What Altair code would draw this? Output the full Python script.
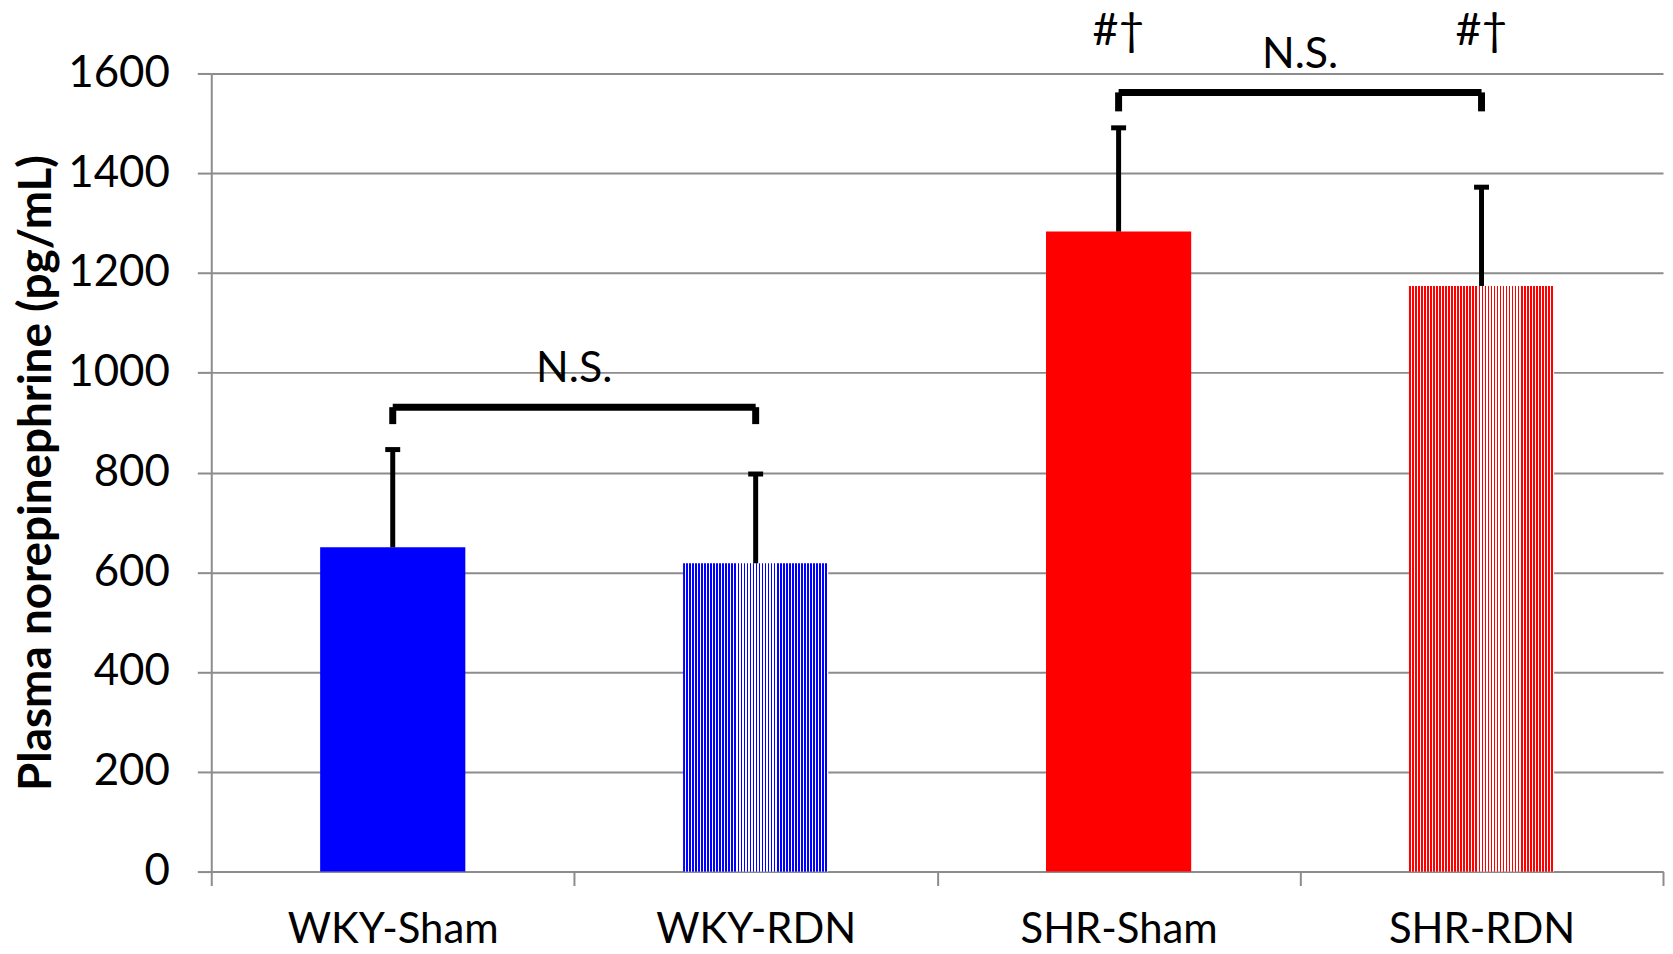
import altair as alt
import pandas as pd

groups = ["WKY-Sham", "WKY-RDN", "SHR-Sham", "SHR-RDN"]
means = [650, 618, 1283, 1174]
upper = [846, 797, 1491, 1372]

bracket_left = ["WKY-Sham", "SHR-Sham"]
bracket_right = ["WKY-RDN", "SHR-RDN"]
bracket_top = [931, 1562]
bracket_bottom = [897, 1524]
ns_text = ["N.S.", "N.S."]
ns_y = [981, 1610]

mark_groups = ["SHR-Sham", "SHR-RDN"]
mark_text = ["#\u2020", "#\u2020"]
mark_y = [1658, 1658]

FONT = "Lato"
GRAY = "#8c8c8c"

df = pd.DataFrame({"group": groups, "mean": means, "upper": upper})
br = pd.DataFrame({"left": bracket_left, "right": bracket_right,
                   "top": bracket_top, "bottom": bracket_bottom,
                   "text": ns_text, "ty": ns_y})
br_ends = pd.DataFrame({"group": bracket_left + bracket_right,
                        "top": bracket_top + bracket_top,
                        "bottom": bracket_bottom + bracket_bottom})
mk = pd.DataFrame({"group": mark_groups, "text": mark_text, "y": mark_y})

xscale = alt.Scale(domain=groups, paddingInner=0, paddingOuter=0)
yscale = alt.Scale(domain=[0, 1600], nice=False)

x_axis = alt.Axis(title=None, labelAngle=0, labelFontSize=42, labelFont=FONT,
                  labelColor="black", tickBand="extent", tickSize=14,
                  tickColor=GRAY, tickWidth=2, domainColor=GRAY, domainWidth=2,
                  labelPadding=24, grid=False, labelLimit=0)
y_axis = alt.Axis(title="Plasma norepinephrine (pg/mL)", values=list(range(0, 1601, 200)),
                  format="d", labelFontSize=44, labelFont=FONT, labelColor="black",
                  tickSize=14, tickColor=GRAY, tickWidth=2, domainColor=GRAY,
                  domainWidth=2, labelPadding=28, grid=True, gridColor=GRAY,
                  gridWidth=2, titleFont=FONT, titleFontSize=46,
                  titleFontWeight="bold", titleColor="black", titlePadding=7)


def stripes(c, n=48):
    stops = []
    for i in range(n):
        a = i / n
        b = (i + 0.55) / n
        e = (i + 1) / n
        stops += [alt.GradientStop(offset=a, color=c), alt.GradientStop(offset=b, color=c),
                  alt.GradientStop(offset=b, color="white"), alt.GradientStop(offset=e, color="white")]
    return alt.Gradient(gradient="linear", stops=stops, x1=0, x2=1, y1=0, y2=0)


BW = alt.RelativeBandSize(0.4)
base = alt.Chart(df)

bars_solid = base.transform_filter(
    alt.FieldOneOfPredicate(field="group", oneOf=["WKY-Sham", "SHR-Sham"])
).mark_bar(width=BW).encode(
    x=alt.X("group:N", scale=xscale, sort=groups, axis=x_axis),
    y=alt.Y("mean:Q", scale=yscale, axis=y_axis),
    color=alt.Color("group:N", scale=alt.Scale(domain=["WKY-Sham", "SHR-Sham"],
                                               range=["#0000ff", "#ff0000"]), legend=None),
)

bar_wrdn = base.transform_filter(alt.datum.group == "WKY-RDN").mark_bar(
    width=BW, color=stripes("#0000ff")).encode(x=alt.X("group:N", scale=xscale, sort=groups),
                                                y=alt.Y("mean:Q", scale=yscale))
bar_srdn = base.transform_filter(alt.datum.group == "SHR-RDN").mark_bar(
    width=BW, color=stripes("#ff0000")).encode(x=alt.X("group:N", scale=xscale, sort=groups),
                                                y=alt.Y("mean:Q", scale=yscale))

err = base.mark_rule(color="black", strokeWidth=5).encode(
    x=alt.X("group:N", scale=xscale, sort=groups),
    y=alt.Y("mean:Q", scale=yscale), y2="upper:Q")
cap = base.mark_tick(color="black", size=15, thickness=5, opacity=1).encode(
    x=alt.X("group:N", scale=xscale, sort=groups),
    y=alt.Y("upper:Q", scale=yscale))

br_h = alt.Chart(br).mark_rule(color="black", strokeWidth=7).encode(
    x=alt.X("left:N", scale=xscale, sort=groups), x2="right:N",
    y=alt.Y("top:Q", scale=yscale))
br_v = alt.Chart(br_ends).mark_rule(color="black", strokeWidth=7).encode(
    x=alt.X("group:N", scale=xscale, sort=groups),
    y=alt.Y("bottom:Q", scale=yscale), y2="top:Q")
ns = alt.Chart(br).mark_text(font=FONT, fontSize=43, color="black", baseline="alphabetic").encode(
    x=alt.X("left:N", scale=xscale, sort=groups, bandPosition=1),
    y=alt.Y("ty:Q", scale=yscale), text="text:N")
marks = alt.Chart(mk).mark_text(font=FONT, fontSize=45, color="black", baseline="alphabetic").encode(
    x=alt.X("group:N", scale=xscale, sort=groups),
    y=alt.Y("y:Q", scale=yscale), text="text:N")

chart = alt.layer(bars_solid, bar_wrdn, bar_srdn, err, cap, br_h, br_v, ns, marks).properties(
    width=1457, height=801, autosize="none",
    padding={"left": 204, "top": 64, "right": 2, "bottom": 72},
).configure_view(stroke=None)

chart.save("out.html", embed_options={"renderer": "svg", "actions": False})
